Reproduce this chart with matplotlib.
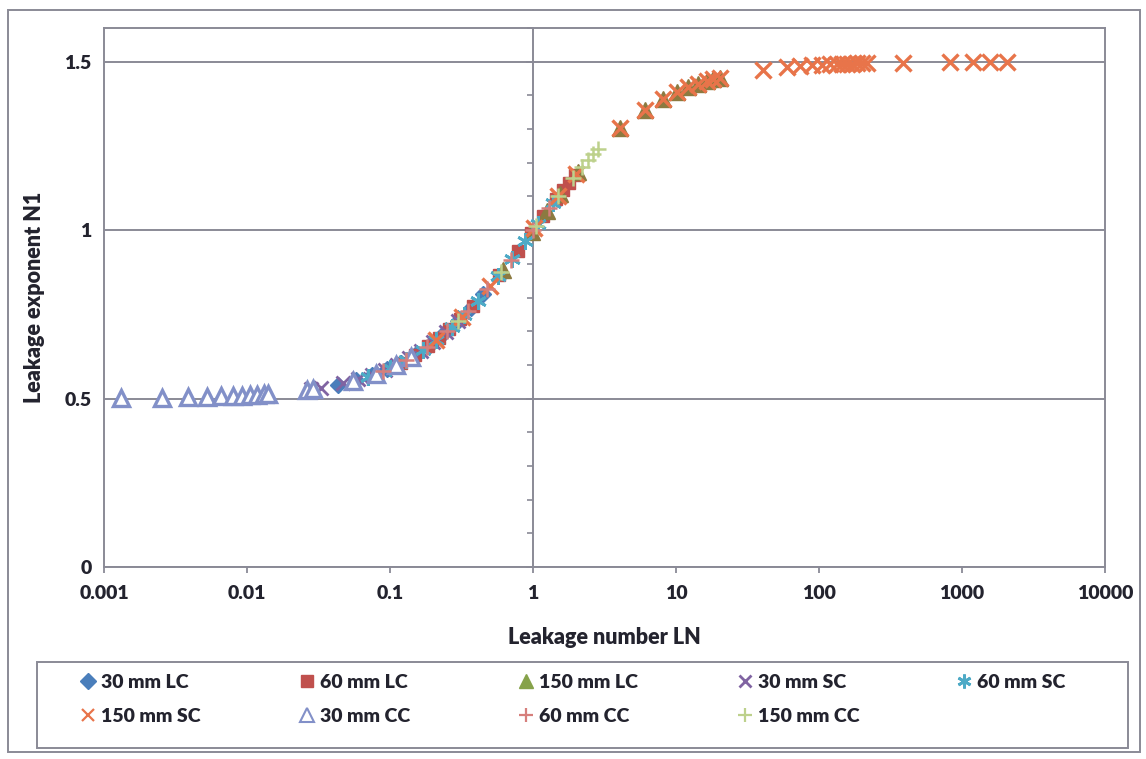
import matplotlib
matplotlib.use('Agg')
import matplotlib.pyplot as plt
from matplotlib.lines import Line2D
from matplotlib.patches import Rectangle
from matplotlib.ticker import NullLocator, MultipleLocator

# ---------------- data ----------------
lc30_x = [0.043, 0.058, 0.075, 0.095, 0.12, 0.15, 0.19, 0.24, 0.30, 0.37, 0.45]
lc30_y = [0.541, 0.555, 0.570, 0.587, 0.607, 0.630, 0.660, 0.694, 0.731, 0.770, 0.810]

lc60_x = [0.12, 0.15, 0.185, 0.22, 0.26, 0.31, 0.38, 0.58, 0.78, 0.97, 1.18, 1.45, 1.63, 1.78, 1.98]
lc60_y = [0.607, 0.630, 0.656, 0.680, 0.706, 0.737, 0.775, 0.867, 0.938, 0.992, 1.041, 1.092, 1.120, 1.140, 1.164]

lc150_x = [0.62, 0.98, 1.25, 1.55, 2.05, 4.06, 6.07, 8.1, 10.2, 12.1, 14.3, 16.5, 18.2, 20.3]
lc150_y = [0.883, 0.995, 1.056, 1.108, 1.172, 1.302, 1.358, 1.390, 1.411, 1.424, 1.435, 1.443, 1.448, 1.453]

sc30_x = [0.028, 0.033, 0.047, 0.060, 0.075, 0.092, 0.112, 0.136, 0.165, 0.20, 0.245, 0.30]
sc30_y = [0.527, 0.532, 0.545, 0.557, 0.570, 0.584, 0.601, 0.620, 0.642, 0.667, 0.697, 0.731]

sc60_x = [0.07, 0.10, 0.13, 0.17, 0.21, 0.27, 0.33, 0.41, 0.57, 0.71, 0.88, 1.08, 1.38]
sc60_y = [0.565, 0.591, 0.615, 0.645, 0.674, 0.713, 0.748, 0.791, 0.863, 0.915, 0.968, 1.019, 1.080]

sc150_x = [0.21, 0.32, 0.50, 1.02, 1.50, 2.00,
           4.06, 6.07, 8.1, 10.2, 12.1, 14.3, 16.5, 18.2, 20.3,
           40.6, 59.7, 73.6, 89.4, 105, 119, 134, 145, 157, 170, 184, 200, 217,
           387, 824, 1194, 1570, 2064]
sc150_y = [0.674, 0.742, 0.833, 1.005, 1.100, 1.167,
           1.302, 1.358, 1.390, 1.411, 1.424, 1.435, 1.443, 1.448, 1.453,
           1.476, 1.484, 1.487, 1.489, 1.491, 1.492, 1.493, 1.493, 1.494, 1.494, 1.495, 1.495, 1.495,
           1.497, 1.499, 1.499, 1.499, 1.500]

cc30_x = [0.00131, 0.00253, 0.00389, 0.00528, 0.00655, 0.00794, 0.00918, 0.0105, 0.0118,
          0.0132, 0.0141, 0.0262, 0.029, 0.055, 0.08, 0.11, 0.14]
cc30_y = [0.501, 0.503, 0.504, 0.505, 0.507, 0.508, 0.509, 0.510, 0.512,
          0.513, 0.514, 0.526, 0.528, 0.552, 0.574, 0.599, 0.623]

cc60_x = [0.09, 0.13, 0.18, 0.25, 0.35, 0.48, 0.70, 1.00, 1.30]
cc60_y = [0.583, 0.615, 0.653, 0.700, 0.759, 0.824, 0.912, 1.000, 1.065]

cc150_x = [0.30, 0.60, 1.05, 1.50, 1.90, 2.20, 2.42, 2.63, 2.85]
cc150_y = [0.731, 0.875, 1.012, 1.100, 1.155, 1.188, 1.208, 1.225, 1.240]

series_labels = ['30 mm LC', '60 mm LC', '150 mm LC', '30 mm SC', '60 mm SC',
                 '150 mm SC', '30 mm CC', '60 mm CC', '150 mm CC']
x_ticks = [0.001, 0.01, 0.1, 1, 10, 100, 1000, 10000]
x_tick_labels = ['0.001', '0.01', '0.1', '1', '10', '100', '1000', '10000']
y_ticks = [0, 0.5, 1, 1.5]
y_tick_labels = ['0', '0.5', '1', '1.5']

# ---------------- style ----------------
FAM = ['Lato', 'DejaVu Sans']
WT = 'heavy'
plt.rcParams['font.family'] = FAM
plt.rcParams['font.weight'] = WT
TXT = '#23232e'
GRID = '#8a8a96'
FS = 14
FS_T = 15.5

W, H = 1146, 759
fig = plt.figure(figsize=(W / 100, H / 100), dpi=100)
fig.patch.set_facecolor('white')
ax = fig.add_axes([104 / W, 1 - 567 / H, (1105 - 104) / W, (567 - 28) / H])
ax.set_xscale('log')
ax.set_xlim(0.001, 10000)
ax.set_ylim(0, 1.6)

for s in ax.spines.values():
    s.set_color(GRID)
    s.set_linewidth(1.4)

ax.set_xticks(x_ticks)
ax.set_xticklabels(x_tick_labels, fontweight=WT)
ax.xaxis.set_minor_locator(NullLocator())
ax.tick_params(axis='x', direction='out', length=4, width=1.3, color=GRID,
               labelsize=FS, labelcolor=TXT, pad=9)
ax.set_yticks(y_ticks)
ax.set_yticklabels(y_tick_labels, fontweight=WT)
ax.tick_params(axis='y', length=0, labelsize=FS, labelcolor=TXT, pad=9)
ax.yaxis.grid(True, color=GRID, linewidth=1.4)
ax.set_axisbelow(True)

# vertical axis crossing at LN = 1
sec = ax.secondary_yaxis(3 / 7)
sec.spines['left'].set_color(GRID)
sec.spines['left'].set_linewidth(1.4)
sec.set_yticks(y_ticks)
sec.yaxis.set_minor_locator(MultipleLocator(0.1))
sec.tick_params(axis='y', which='both', direction='out', color=GRID, width=1.2,
                labelleft=False, labelright=False)
sec.tick_params(axis='y', which='major', length=5)
sec.tick_params(axis='y', which='minor', length=4)

ax.set_xlabel('Leakage number LN', fontsize=FS_T, color=TXT, fontweight=WT, labelpad=18)
ax.set_ylabel('Leakage exponent N1', fontsize=FS_T, color=TXT, fontweight=WT, labelpad=14)

# ---------------- series ----------------
c_lc30 = '#4a7ebb'
c_lc60 = '#c0504d'
c_lc150 = '#86a24a'
c_sc30 = '#8064a2'
c_sc60 = '#4eaac6'
c_sc150 = '#e8744a'
c_cc30 = '#8290c8'
c_cc60 = '#d67f7c'
c_cc150 = '#bdd18c'

h = []
h.append(ax.plot(lc30_x, lc30_y, ls='none', marker='D', ms=8, color=c_lc30, mec=c_lc30)[0])
h.append(ax.plot(lc60_x, lc60_y, ls='none', marker='s', ms=9, color=c_lc60, mec=c_lc60)[0])
h.append(ax.plot(lc150_x, lc150_y, ls='none', marker='^', ms=11, color='#8c7a40', mec='#8c7a40')[0])
h.append(ax.plot(sc30_x, sc30_y, ls='none', marker='x', ms=10, mew=2, color=c_sc30)[0])
h.append(ax.plot(sc60_x, sc60_y, ls='none', marker=(6, 2, 0), ms=12, mew=2, color=c_sc60)[0])
h.append(ax.plot(sc150_x, sc150_y, ls='none', marker='x', ms=11, mew=2.4, color=c_sc150)[0])
h.append(ax.plot(cc30_x, cc30_y, ls='none', marker='^', ms=12, mew=2.4, mfc='white', mec=c_cc30)[0])
h.append(ax.plot(cc60_x, cc60_y, ls='none', marker='+', ms=11, mew=1.8, color=c_cc60)[0])
h.append(ax.plot(cc150_x, cc150_y, ls='none', marker='+', ms=11, mew=1.8, color=c_cc150)[0])

# legend handles (legend triangle drawn in the series green)
lh = [
    Line2D([], [], ls='none', marker='D', ms=8, color=c_lc30),
    Line2D([], [], ls='none', marker='s', ms=9, color=c_lc60),
    Line2D([], [], ls='none', marker='^', ms=10, color=c_lc150),
    Line2D([], [], ls='none', marker='x', ms=9, mew=2, color=c_sc30),
    Line2D([], [], ls='none', marker=(6, 2, 0), ms=10, mew=2, color=c_sc60),
    Line2D([], [], ls='none', marker='x', ms=9, mew=1.6, color=c_sc150),
    Line2D([], [], ls='none', marker='^', ms=10, mew=1.5, mfc='white', mec=c_cc30),
    Line2D([], [], ls='none', marker='+', ms=10, mew=1.6, color=c_cc60),
    Line2D([], [], ls='none', marker='+', ms=10, mew=1.6, color=c_cc150),
]

# Excel-like legend: 5 evenly spaced columns, 2 rows
col_x = [88 + 219 * i for i in range(5)]
top_px = 674
for ci in range(5):
    idx = [ci] + ([ci + 5] if ci + 5 < 9 else [])
    hl = 0.6 * FS * 100 / 72  # handle length in px
    x0 = col_x[ci] - hl / 2
    fig.legend([lh[i] for i in idx], [series_labels[i] for i in idx],
               loc='upper left', bbox_to_anchor=(x0 / W, 1 - top_px / H),
               frameon=False, borderpad=0, borderaxespad=0,
               handlelength=0.6, handletextpad=0.35, labelspacing=0.85,
               prop={'family': FAM, 'weight': WT, 'size': FS},
               labelcolor=TXT)

fig.patches.append(Rectangle((37 / W, 1 - 748 / H), (1128 - 37) / W, (748 - 662) / H,
                             transform=fig.transFigure, fill=False, ec=GRID, lw=1.4))
fig.patches.append(Rectangle((8 / W, 1 - 752 / H), (1140 - 8) / W, (752 - 10) / H,
                             transform=fig.transFigure, fill=False, ec=GRID, lw=1.4))

fig.savefig('out.png', dpi=100, facecolor='white')
